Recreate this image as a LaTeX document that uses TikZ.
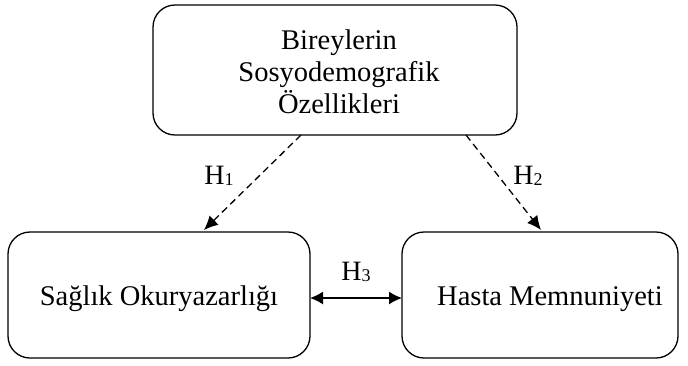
\documentclass[tikz,border=0pt]{standalone}
\usepackage{fontspec}
\setmainfont{Liberation Serif}
\usetikzlibrary{arrows.meta}
\newcommand{\hyp}[1]{H\raisebox{-1pt}{\fontsize{18}{18}\selectfont #1}}
\begin{document}
\begin{tikzpicture}[x=1pt,y=-1pt,
  box/.style={draw,line width=1.3pt,rounded corners=22pt},
  txt/.style={align=center,font=\fontsize{28.5}{32}\selectfont},
  link/.style={line width=1.3pt,-{Latex[length=14pt,width=13pt]}},
  dlink/.style={link,dash pattern=on 7pt off 4.5pt},
  lbl/.style={font=\fontsize{28}{30}\selectfont}]
\useasboundingbox (0,0) rectangle (688,365);
% source box and the two outcome boxes
\draw[box] (153,5) rectangle (517,135);
\node[txt] (src) at (339,72) {Bireylerin\\Sosyodemografik\\Özellikleri};
\draw[box] (8,232) rectangle (310,358);
\node[txt] (hl) at (159,299) {Sağlık Okuryazarlığı};
\draw[box] (402,232) rectangle (678,358);
\node[txt] (pm) at (550,299) {Hasta Memnuniyeti};
% anchor points on the box edges
\coordinate (s1) at (301,135);
\coordinate (s2) at (466,135);
\coordinate (t1) at (204,230);
\coordinate (t2) at (541,230);
\coordinate (l3) at (310,298);
\coordinate (r3) at (402,298);
% hypothesised paths
\draw[dlink] (s1) -- (t1);
\draw[dlink] (s2) -- (t2);
\draw[line width=1.5pt,{Latex[length=13pt,width=13pt]}-{Latex[length=13pt,width=13pt]}] (l3) -- (r3);
\node[lbl] (h1) at (219,176) {\hyp{1}};
\node[lbl] (h2) at (528,176) {\hyp{2}};
\node[lbl] (h3) at (356,272) {\hyp{3}};
\end{tikzpicture}
\end{document}
